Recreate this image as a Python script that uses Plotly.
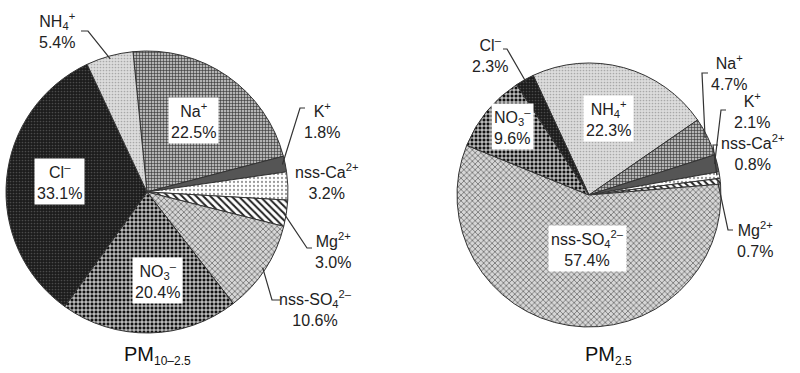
import math
import plotly.graph_objects as go

# ---------------- data ----------------
left_ions = ["Na+", "K+", "nss-Ca2+", "Mg2+", "nss-SO42-", "NO3-", "Cl-", "NH4+"]
left_values = [22.5, 1.8, 3.2, 3.0, 10.6, 20.4, 33.1, 5.4]
right_ions = ["NH4+", "Na+", "K+", "nss-Ca2+", "Mg2+", "nss-SO42-", "NO3-", "Cl-"]
right_values = [22.3, 4.7, 2.1, 0.8, 0.7, 57.4, 9.6, 2.3]
left_title = "PM<sub><span style='font-size:12px'>10–2.5</span></sub>"
right_title = "PM<sub><span style='font-size:12px'>2.5</span></sub>"

ion_html = {
    "Na+": "Na<sup>+</sup>",
    "K+": "K<sup>+</sup>",
    "nss-Ca2+": "nss-Ca<sup>2+</sup>",
    "Mg2+": "Mg<sup>2+</sup>",
    "nss-SO42-": "nss-SO<sub>4</sub><sup>2–</sup>",
    "NO3-": "NO<sub>3</sub><sup>–</sup>",
    "Cl-": "Cl<sup>–</sup>",
    "NH4+": "NH<sub>4</sub><sup>+</sup>",
}

# ---------------- styles ----------------
W, H = 800, 373
style = {  # shape, fg, bg, size, solidity
    "Na+": ("+", "#333333", "#b4b4b4", 3, 0.35),
    "K+": ("", "#555555", "#555555", 4, 0.3),
    "nss-Ca2+": (".", "#9a9a9a", "#ffffff", 4, 0.25),
    "Mg2+": ("\\", "#222222", "#ffffff", 5, 0.4),
    "nss-SO42-": ("x", "#555555", "#d6d6d6", 4, 0.3),
    "NO3-": ("+", "#ffffff", "#111111", 4, 0.4),
    "Cl-": (".", "#4a4a4a", "#1c1c1c", 3, 0.25),
    "NH4+": (".", "#a8a8a8", "#dcdcdc", 3, 0.25),
}

FONT = "Liberation Sans, Arial, Helvetica, sans-serif"

# pie placement (pixels): x0, x1, ytop, ybottom and rotation
left_dom = (5, 289, 51, 333)
right_dom = (457, 721, 63, 327)
left_rot = -5.7
right_rot = -25.0


def px(x):
    return x / W


def py(y):
    return 1 - y / H


def make_pie(ions, vals, dom, rot):
    shapes = [style[i][0] for i in ions]
    fg = [style[i][1] for i in ions]
    bg = [style[i][2] for i in ions]
    sz = [style[i][3] for i in ions]
    so = [style[i][4] for i in ions]
    return go.Pie(
        labels=ions, values=vals, sort=False, direction="clockwise",
        rotation=rot, textinfo="none", hoverinfo="label+percent",
        showlegend=False,
        domain=dict(x=[px(dom[0]), px(dom[1])], y=[py(dom[3]), py(dom[2])]),
        marker=dict(colors=bg, line=dict(color="#333333", width=1),
                    pattern=dict(shape=shapes, fgcolor=fg, bgcolor=bg,
                                 size=sz, solidity=so, fillmode="replace")),
    )


def anchor(ions, vals, dom, rot, name, frac=1.0):
    total = sum(vals)
    cx = (dom[0] + dom[1]) / 2
    cy = (dom[2] + dom[3]) / 2
    r = min(dom[1] - dom[0], dom[3] - dom[2]) / 2
    start = rot
    for i, v in zip(ions, vals):
        ang = v / total * 360
        if i == name:
            mid = math.radians(start + ang / 2)
            return cx + frac * r * math.sin(mid), cy - frac * r * math.cos(mid)
        start += ang


fig = go.Figure()
fig.add_trace(make_pie(left_ions, left_values, left_dom, left_rot))
fig.add_trace(make_pie(right_ions, right_values, right_dom, right_rot))

annotations = []
shapes = []


def pct(v):
    return f"{v:.1f}%"


# inside (boxed) labels: ion -> center pixel
left_inside = {"Na+": (193, 120), "Cl-": (59, 181), "NO3-": (157, 280)}
right_inside = {"NH4+": (608, 118), "NO3-": (512, 126), "nss-SO42-": (587, 248)}
# outside labels: ion -> (label center, elbow, end)
left_outside = {
    "NH4+": ((57, 30), (88, 31), (81, 31)),
    "K+": ((322, 120), (300, 108), (305, 108)),
    "nss-Ca2+": ((326, 181), None, None),
    "Mg2+": ((333, 250), (307, 248), (312, 248)),
    "nss-SO42-": ((315, 308), (272, 300), (280, 300)),
}
right_outside = {
    "Cl-": ((490, 55), (507, 49), (503, 49)),
    "Na+": ((729, 72), (702, 73), (708, 73)),
    "K+": ((752, 111), (721, 110), (726, 110)),
    "nss-Ca2+": ((752, 152), (713, 145), (718, 145)),
    "Mg2+": ((755, 239), (728, 230), (733, 230)),
}

common = dict(xref="paper", yref="paper", showarrow=False,
              xanchor="center", yanchor="middle", align="center")


def add_labels(ions, vals, dom, rot, inside, outside):
    for ion, v in zip(ions, vals):
        txt = f"{ion_html[ion]}<br>{pct(v)}"
        if ion in inside:
            x, y = inside[ion]
            annotations.append(dict(x=px(x), y=py(y), text=txt, bgcolor="white",
                                    borderpad=2, font=dict(size=16, color="#222", family=FONT),
                                    **common))
        elif ion in outside:
            (x, y), elbow, end = outside[ion]
            annotations.append(dict(x=px(x), y=py(y), text=txt,
                                    font=dict(size=16, color="#222", family=FONT), **common))
            if elbow is not None:
                ax, ay = anchor(ions, vals, dom, rot, ion, 0.98)
                path = (f"M {px(ax)} {py(ay)} L {px(elbow[0])} {py(elbow[1])} "
                        f"L {px(end[0])} {py(end[1])}")
                shapes.append(dict(type="path", xref="paper", yref="paper", path=path,
                                   line=dict(color="#333", width=1.2)))


add_labels(left_ions, left_values, left_dom, left_rot, left_inside, left_outside)
add_labels(right_ions, right_values, right_dom, right_rot, right_inside, right_outside)

annotations.append(dict(x=px(157), y=py(355), text=left_title,
                        font=dict(size=20, color="#111", family=FONT), **common))
annotations.append(dict(x=px(608), y=py(355), text=right_title,
                        font=dict(size=20, color="#111", family=FONT), **common))

fig.update_layout(
    width=W, height=H, margin=dict(l=0, r=0, t=0, b=0),
    paper_bgcolor="white", plot_bgcolor="white",
    annotations=annotations, shapes=shapes,
    font=dict(family=FONT),
)

fig.write_html("out.html", config={"displayModeBar": False},
               post_script="document.body.style.margin='0px';document.body.style.overflow='hidden';")
